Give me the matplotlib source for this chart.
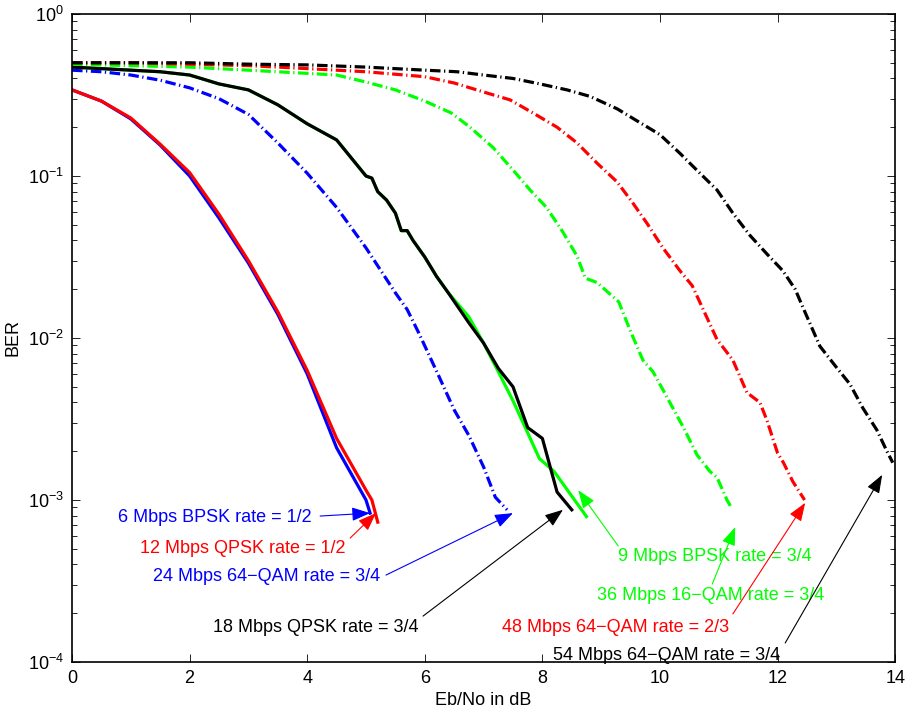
import matplotlib
matplotlib.use("Agg")
import matplotlib.pyplot as plt

plt.rcParams['font.family'] = ['Liberation Sans', 'DejaVu Sans']
plt.rcParams['mathtext.fontset'] = 'custom'
plt.rcParams['mathtext.rm'] = 'Liberation Sans'
plt.rcParams['mathtext.it'] = 'Liberation Sans:italic'
plt.rcParams['font.size'] = 13

# 6 Mbps BPSK 1/2
x_bpsk12 = [0, 0.5, 1, 1.5, 2, 2.5, 3, 3.5, 4, 4.5, 5, 5.07]
y_bpsk12 = [0.34, 0.29, 0.225, 0.155, 0.10, 0.055, 0.029, 0.0140, 0.0060, 0.0021, 0.00100, 0.00083]
# 12 Mbps QPSK 1/2
x_qpsk12 = [0, 0.5, 1, 1.5, 2, 2.5, 3, 3.5, 4, 4.5, 5, 5.1, 5.2]
y_qpsk12 = [0.34, 0.29, 0.228, 0.157, 0.105, 0.058, 0.030, 0.0145, 0.0063, 0.0024, 0.00115, 0.00100, 0.00073]
# 24 Mbps 64-QAM 3/4
x_qam64_34a = [0, 0.5, 1, 1.5, 2, 2.5, 3, 3.5, 4, 4.5, 5, 5.5, 5.7, 5.9, 6.25, 6.5, 6.75, 7.0, 7.2, 7.4]
y_qam64_34a = [0.45, 0.44, 0.42, 0.39, 0.35, 0.30, 0.24, 0.16, 0.104, 0.064, 0.036, 0.019, 0.015, 0.0107,
               0.0057, 0.0036, 0.0025, 0.0016, 0.00104, 0.00087]
# 9 Mbps BPSK 3/4
x_bpsk34 = [0, 1, 1.5, 2, 2.5, 3, 3.5, 4, 4.5, 5, 5.1, 5.2, 5.35, 5.5, 5.6, 5.7, 5.8, 6.0, 6.2, 6.4,
            6.75, 7.0, 7.25, 7.5, 7.75, 7.95, 8.2, 8.75]
y_bpsk34 = [0.47, 0.45, 0.44, 0.42, 0.37, 0.34, 0.275, 0.21, 0.167, 0.10, 0.097, 0.080, 0.071, 0.059,
            0.046, 0.046, 0.040, 0.0316, 0.024, 0.019, 0.0135, 0.0093, 0.0062, 0.0041, 0.0026, 0.0018,
            0.0015, 0.00079]
# 18 Mbps QPSK 3/4
x_qpsk34 = [0, 1, 1.5, 2, 2.5, 3, 3.5, 4, 4.5, 5, 5.1, 5.2, 5.35, 5.5, 5.6, 5.7, 5.8, 6.0, 6.2, 6.4,
            6.75, 7.0, 7.25, 7.5, 7.75, 8.0, 8.25, 8.5]
y_qpsk34 = [0.47, 0.45, 0.44, 0.42, 0.37, 0.34, 0.275, 0.21, 0.167, 0.10, 0.097, 0.080, 0.071, 0.059,
            0.046, 0.046, 0.040, 0.0316, 0.024, 0.019, 0.0124, 0.0093, 0.0065, 0.0050, 0.0028, 0.0024,
            0.00112, 0.00087]
# 36 Mbps 16-QAM 3/4
x_qam16_34 = [0, 1, 2, 3, 4, 4.5, 5, 5.5, 6, 6.45, 6.77, 7.16, 7.5, 7.79, 8.07, 8.35, 8.59, 8.73, 8.93,
              9.3, 9.49, 9.71, 9.88, 10.05, 10.4, 10.63, 10.85, 10.97, 11.14, 11.22]
y_qam16_34 = [0.49, 0.48, 0.47, 0.45, 0.43, 0.42, 0.38, 0.34, 0.29, 0.245, 0.20, 0.15, 0.109, 0.082,
              0.064, 0.045, 0.032, 0.0234, 0.022, 0.0167, 0.0112, 0.0073, 0.0062, 0.0048, 0.0028,
              0.0019, 0.0015, 0.00138, 0.0010, 0.00089]
# 48 Mbps 64-QAM 2/3
x_qam64_23 = [0, 1, 2, 3, 4, 5, 6, 6.5, 7, 7.45, 7.84, 8.25, 8.59, 8.93, 9.27, 9.54, 9.78, 10.05, 10.34,
              10.55, 10.97, 11.24, 11.48, 11.7, 11.82, 12.0, 12.1, 12.26, 12.46]
y_qam64_23 = [0.50, 0.50, 0.49, 0.48, 0.46, 0.44, 0.41, 0.375, 0.33, 0.295, 0.245, 0.20, 0.16, 0.12,
              0.092, 0.068, 0.051, 0.036, 0.026, 0.021, 0.0098, 0.0073, 0.0046, 0.0040, 0.0031,
              0.00195, 0.0017, 0.0013, 0.0010]
# 54 Mbps 64-QAM 3/4
x_qam64_34 = [0, 1, 2, 3, 4, 5, 6, 6.55, 7, 7.5, 7.96, 8.42, 8.81, 9.27, 9.6, 10.0, 10.34, 10.68, 10.97,
              11.24, 11.53, 11.82, 12.09, 12.3, 12.43, 12.72, 13.0, 13.23, 13.45, 13.69, 13.86, 13.96]
y_qam64_34 = [0.50, 0.50, 0.50, 0.49, 0.485, 0.47, 0.45, 0.44, 0.42, 0.40, 0.37, 0.34, 0.31, 0.26,
              0.22, 0.18, 0.138, 0.104, 0.082, 0.059, 0.043, 0.033, 0.026, 0.020, 0.0155, 0.0089,
              0.0066, 0.0052, 0.0037, 0.0027, 0.0020, 0.0017]

labels = ["6 Mbps BPSK rate = 1/2", "12 Mbps QPSK rate = 1/2", "24 Mbps 64\u2212QAM rate = 3/4",
          "18 Mbps QPSK rate = 3/4", "9 Mbps BPSK rate = 3/4", "36 Mbps 16\u2212QAM rate = 3/4",
          "48 Mbps 64\u2212QAM rate = 2/3", "54 Mbps 64\u2212QAM rate = 3/4"]
label_colors = ['#0000ff', '#ff0000', '#0000ff', 'black', '#00ff00', '#00ff00', '#ff0000', 'black']
# text position (left, center), arrow start, arrow tip
text_pos = [(0.78, 7.85e-4), (1.16, 5.0e-4), (1.38, 3.39e-4), (2.40, 1.64e-4),
            (9.29, 4.45e-4), (8.93, 2.59e-4), (7.31, 1.64e-4), (8.18, 1.10e-4)]
arrow_from = [(4.22, 7.96e-4), (4.73, 5.82e-4), (5.34, 3.44e-4), (5.97, 1.92e-4),
              (9.29, 5.2e-4), (10.89, 3.03e-4), (11.24, 1.98e-4), (12.13, 1.31e-4)]
arrow_to = [(5.07, 8.3e-4), (5.17, 8.3e-4), (7.50, 8.3e-4), (8.35, 8.7e-4),
            (8.61, 1.15e-3), (11.28, 6.8e-4), (12.47, 9.6e-4), (13.78, 1.43e-3)]

fig = plt.figure(figsize=(9.06, 7.10), dpi=100)
ax = fig.add_axes([0.0795, 0.0676, 0.9085, 0.9127])

lw = 2.3
dd = (3.3, 1.1, 0.4, 1.1)
ax.plot(x_bpsk12, y_bpsk12, color='#0000ff', lw=lw)
ax.plot(x_qpsk12, y_qpsk12, color='#ff0000', lw=lw)
ax.plot(x_qam64_34a, y_qam64_34a, color='#0000ff', lw=lw, dashes=dd, dash_capstyle='butt')
ax.plot(x_bpsk34, y_bpsk34, color='#00ff00', lw=lw)
ax.plot(x_qpsk34, y_qpsk34, color='black', lw=lw)
ax.plot(x_qam16_34, y_qam16_34, color='#00ff00', lw=lw, dashes=dd, dash_capstyle='butt')
ax.plot(x_qam64_23, y_qam64_23, color='#ff0000', lw=lw, dashes=dd, dash_capstyle='butt')
ax.plot(x_qam64_34, y_qam64_34, color='black', lw=lw, dashes=dd, dash_capstyle='butt')

for lab, c, tp, af, at in zip(labels, label_colors, text_pos, arrow_from, arrow_to):
    ax.text(tp[0], tp[1], lab, color=c, ha='left', va='center', fontsize=13)
    ax.annotate('', xy=at, xytext=af,
                arrowprops=dict(arrowstyle='-|>,head_length=0.8,head_width=0.3',
                                color=c, lw=0.8, mutation_scale=14,
                                shrinkA=0, shrinkB=0))

ax.set_yscale('log')
ax.set_xlim(0, 14)
ax.set_ylim(1e-4, 1)
ax.set_xticks([0, 2, 4, 6, 8, 10, 12, 14])
ax.set_xlabel("Eb/No in dB", labelpad=3)
ax.set_ylabel("BER", labelpad=4)
ax.tick_params(which='both', direction='in', top=True, right=True, width=0.6)
ax.tick_params(which='major', length=6, pad=6)
ax.tick_params(which='minor', length=3.5)
for s in ax.spines.values():
    s.set_linewidth(1.2)

fig.savefig("out.png", dpi=100)
